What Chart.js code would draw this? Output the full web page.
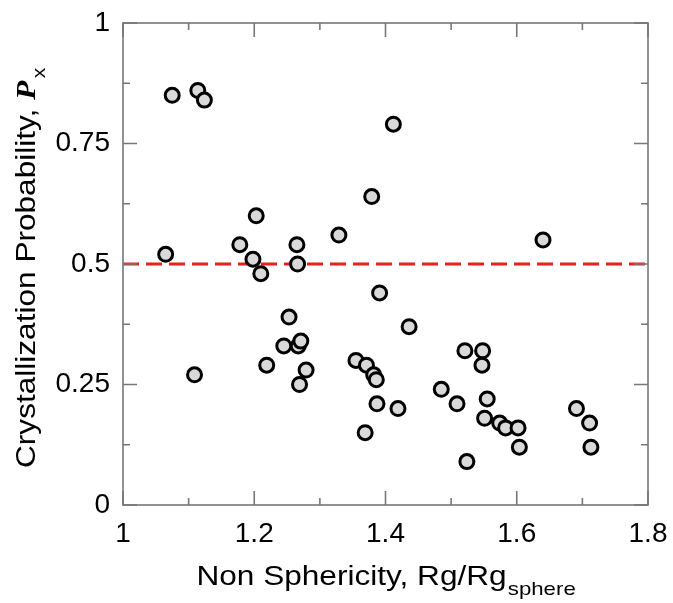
<!DOCTYPE html>
<html>
<head>
<meta charset="utf-8">
<script src="https://cdn.jsdelivr.net/npm/chart.js@4/dist/chart.umd.min.js"></script>
<style>
  html, body { margin: 0; padding: 0; background: #fff; }
  #wrap { width: 673px; height: 603px; }
</style>
</head>
<body>
<div id="wrap"><canvas id="chart"></canvas></div>
<script>
// values
const nonSphericity = [
  1.075, 1.114, 1.124, 1.412, 1.379, 1.203, 1.329, 1.178, 1.265, 1.065, 1.198, 1.266,
  1.210, 1.391, 1.253, 1.436, 1.245, 1.267, 1.271, 1.355, 1.371, 1.219, 1.279, 1.109,
  1.382, 1.386, 1.269, 1.387, 1.419, 1.369,
  1.640, 1.521, 1.548, 1.547, 1.485, 1.555, 1.509, 1.691, 1.551, 1.574, 1.583, 1.602,
  1.711, 1.604, 1.713, 1.524
];
const crystProb = [
  0.85, 0.86, 0.84, 0.79, 0.64, 0.60, 0.56, 0.54, 0.54, 0.52, 0.51, 0.50,
  0.48, 0.44, 0.39, 0.37, 0.33, 0.33, 0.34, 0.30, 0.29, 0.29, 0.28, 0.27,
  0.27, 0.26, 0.25, 0.21, 0.20, 0.15,
  0.55, 0.32, 0.32, 0.29, 0.24, 0.22, 0.21, 0.20, 0.18, 0.17, 0.16, 0.16,
  0.17, 0.12, 0.12, 0.09
];
const thresholdX = [1, 1.8];
const thresholdY = [0.5, 0.5];

const xMajor = [1, 1.2, 1.4, 1.6, 1.8];
const xMinor = [1.1, 1.3, 1.5, 1.7];
const yMajor = [0, 0.25, 0.5, 0.75, 1];
const yMinor = [0.125, 0.375, 0.625, 0.875];

const FONT = '"Liberation Sans", Arial, Helvetica, sans-serif';
const AXIS_GREY = '#777777';

// frame with inward ticks on all four sides
const framePlugin = {
  id: 'frame',
  afterDatasetsDraw(chart) {
    const ctx = chart.ctx;
    const a = chart.chartArea;
    const xs = chart.scales.x, ys = chart.scales.y;
    ctx.save();
    ctx.strokeStyle = AXIS_GREY;
    ctx.lineWidth = 1.6;
    ctx.strokeRect(a.left, a.top, a.right - a.left, a.bottom - a.top);
    function xt(v, len) {
      const p = xs.getPixelForValue(v);
      ctx.moveTo(p, a.bottom); ctx.lineTo(p, a.bottom - len);
      ctx.moveTo(p, a.top); ctx.lineTo(p, a.top + len);
    }
    function yt(v, len) {
      const p = ys.getPixelForValue(v);
      ctx.moveTo(a.left, p); ctx.lineTo(a.left + len, p);
      ctx.moveTo(a.right, p); ctx.lineTo(a.right - len, p);
    }
    ctx.beginPath();
    xMajor.forEach(v => xt(v, 14));
    xMinor.forEach(v => xt(v, 7));
    yMajor.forEach(v => yt(v, 14));
    yMinor.forEach(v => yt(v, 7));
    ctx.stroke();
    ctx.restore();
  }
};

// axis titles with sub-scripts and the bold italic P
const titlePlugin = {
  id: 'titles',
  afterDraw(chart) {
    const ctx = chart.ctx;
    const a = chart.chartArea;
    const stretch = 1.17;
    ctx.save();
    ctx.fillStyle = '#000';
    ctx.textBaseline = 'alphabetic';

    // x title
    ctx.font = '27px ' + FONT;
    const main = 'Non Sphericity, Rg/Rg';
    const w1 = ctx.measureText(main).width * stretch;
    ctx.font = '19px ' + FONT;
    const w2 = ctx.measureText('sphere').width * stretch;
    let x0 = (a.left + a.right) / 2 - (w1 + w2) / 2;
    ctx.save();
    ctx.translate(x0, 585);
    ctx.scale(stretch, 1);
    ctx.font = '27px ' + FONT;
    ctx.fillText(main, 0, 0);
    ctx.font = '19px ' + FONT;
    ctx.fillText('sphere', w1 / stretch + 1, 10);
    ctx.restore();

    // y title, rotated
    ctx.save();
    ctx.translate(35, 468);
    ctx.rotate(-Math.PI / 2);
    ctx.scale(stretch, 1);
    ctx.font = '27px ' + FONT;
    const yMain = 'Crystallization Probability, ';
    ctx.fillText(yMain, 0, 0);
    let off = ctx.measureText(yMain).width;
    ctx.font = 'italic bold 27px "Liberation Serif", "Times New Roman", serif';
    ctx.fillText('P', off, 0);
    off += ctx.measureText('P').width + 2;
    ctx.font = '18px ' + FONT;
    ctx.fillText('x', off, 10);
    ctx.restore();

    ctx.restore();
  }
};

new Chart(document.getElementById('chart').getContext('2d'), {
  type: 'scatter',
  data: {
    datasets: [
      {
        label: 'threshold',
        type: 'line',
        data: thresholdX.map((x, i) => ({ x: x, y: thresholdY[i] })),
        borderColor: '#e8201c',
        borderWidth: 3,
        borderDash: [16, 7],
        pointRadius: 0,
        fill: false,
        order: 2
      },
      {
        label: 'Px',
        data: nonSphericity.map((x, i) => ({ x: x, y: crystProb[i] })),
        backgroundColor: '#d9d9d9',
        borderColor: '#000000',
        borderWidth: 3,
        pointRadius: 7,
        pointHoverRadius: 7,
        order: 1
      }
    ]
  },
  options: {
    responsive: true,
    maintainAspectRatio: false,
    animation: false,
    events: [],
    layout: { padding: { left: 0, right: 25, top: 23, bottom: 0 } },
    plugins: {
      legend: { display: false },
      tooltip: { enabled: false }
    },
    scales: {
      x: {
        type: 'linear',
        min: 1,
        max: 1.8,
        afterFit: s => { s.height = 98; },
        afterBuildTicks: s => { s.ticks = xMajor.map(v => ({ value: v })); },
        grid: { display: false },
        border: { display: false },
        ticks: {
          color: '#000',
          padding: 4,
          font: { family: FONT, size: 28 },
          maxRotation: 0,
          callback: v => String(v)
        }
      },
      y: {
        type: 'linear',
        min: 0,
        max: 1,
        afterFit: s => { s.width = 123; },
        afterBuildTicks: s => { s.ticks = yMajor.map(v => ({ value: v })); },
        grid: { display: false },
        border: { display: false },
        ticks: {
          color: '#000',
          padding: 5,
          font: { family: FONT, size: 28 },
          callback: v => String(v)
        }
      }
    }
  },
  plugins: [framePlugin, titlePlugin]
});
</script>
</body>
</html>
